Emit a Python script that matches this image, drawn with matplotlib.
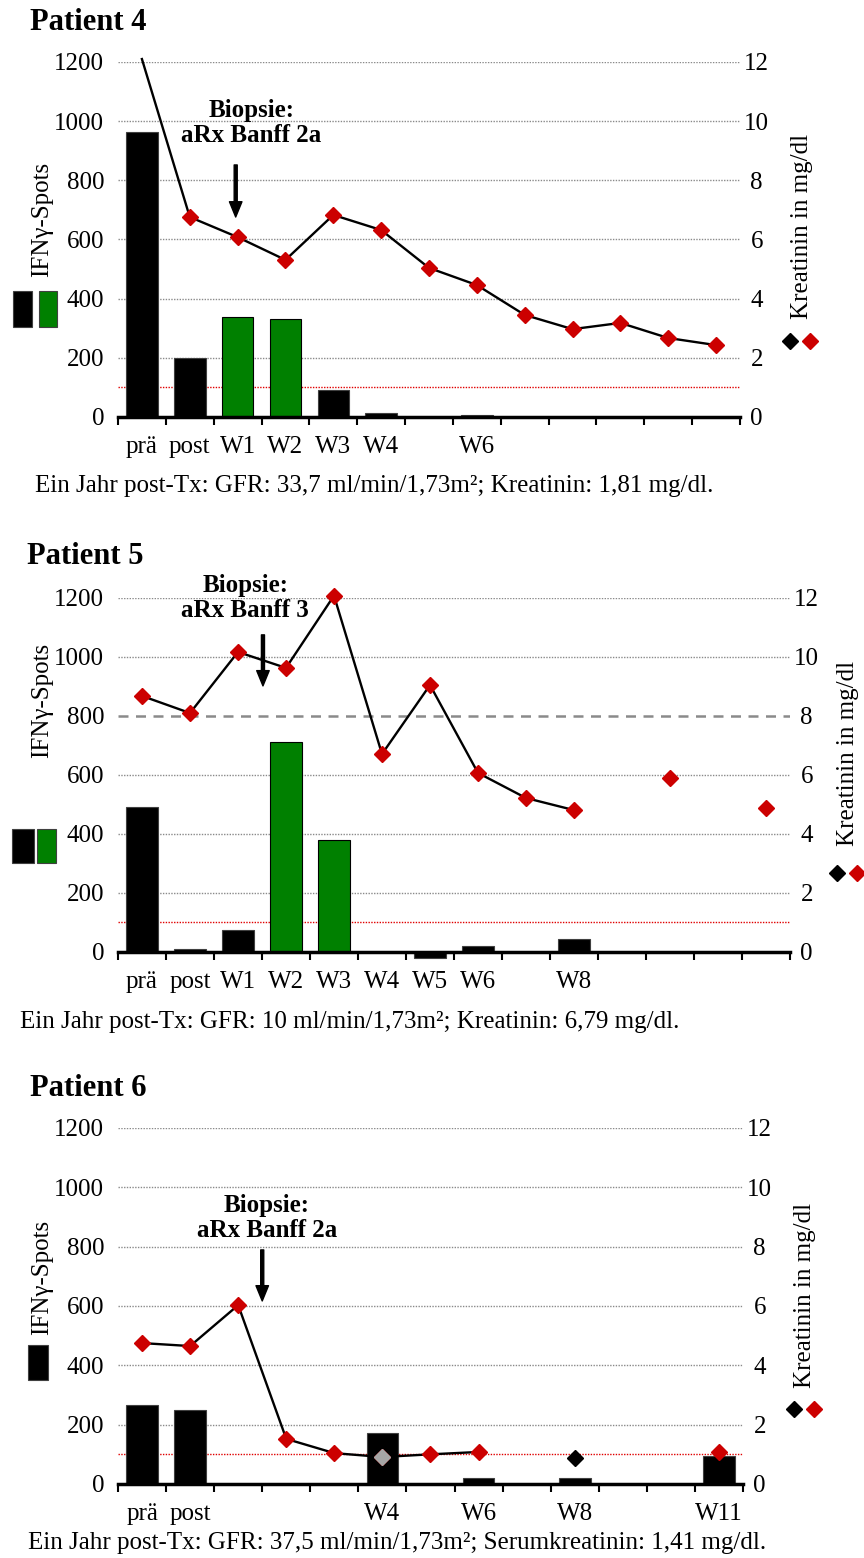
import numpy as np
import matplotlib
matplotlib.use("Agg")
import matplotlib.pyplot as plt
from matplotlib.patches import Rectangle
from matplotlib.lines import Line2D

plt.rcParams['font.family'] = ['Liberation Serif', 'DejaVu Serif']

W, H = 864, 1558
nan = np.nan

# ---------------------------------------------------------------
# Data
# ---------------------------------------------------------------
# Patient 4
p4_labels = ["prä", "post", "W1", "W2", "W3", "W4", "", "W6", "", "", "", "", ""]
p4_spots = [965, 200, 338, 330, 90, 15, nan, 8, nan, nan, nan, nan, nan]
p4_green = [2, 3]
p4_krea = [12.1, 6.76, 6.08, 5.31, 6.83, 6.32, 5.04, 4.46, 3.45, 2.97, 3.18, 2.67, 2.43]
p4_krea_black = [nan] * 13
p4_note = "Ein Jahr post-Tx: GFR: 33,7 ml/min/1,73m²; Kreatinin: 1,81 mg/dl."
p4_biopsy = "Biopsie:\naRx Banff 2a"

# Patient 5
p5_labels = ["prä", "post", "W1", "W2", "W3", "W4", "W5", "W6", "", "W8", "", "", "", ""]
p5_spots = [490, 10, 75, 712, 380, nan, -22, 20, nan, 45, nan, nan, nan, nan]
p5_green = [3, 4]
p5_krea = [8.68, 8.1, 10.17, 9.63, 12.08, 6.71, 9.05, 6.07, 5.22, 4.81, nan, 5.9, nan, 4.88]
p5_krea_black = [nan] * 14
p5_note = "Ein Jahr post-Tx: GFR: 10 ml/min/1,73m²; Kreatinin: 6,79 mg/dl."
p5_biopsy = "Biopsie:\naRx Banff 3"

# Patient 6
p6_labels = ["prä", "post", "", "", "", "W4", "", "W6", "", "W8", "", "", "W11"]
p6_spots = [265, 248, nan, nan, nan, 172, nan, 20, nan, 20, nan, nan, 95]
p6_green = []
p6_krea = [4.75, 4.65, 6.03, 1.52, 1.04, 0.91, 1.0, 1.08, nan, nan, nan, nan, 1.08]
p6_krea_gray = [5]
p6_krea_black = [nan, nan, nan, nan, nan, nan, nan, nan, nan, 0.88, nan, nan, nan]
p6_note = "Ein Jahr post-Tx: GFR: 37,5 ml/min/1,73m²; Serumkreatinin: 1,41 mg/dl."
p6_biopsy = "Biopsie:\naRx Banff 2a"

spot_ticks = [0, 200, 400, 600, 800, 1000, 1200]
krea_ticks = [0, 2, 4, 6, 8, 10, 12]

RED = "#CC0000"
GREEN = "#008000"

fig = plt.figure(figsize=(W / 100, H / 100), dpi=100)


def fx(x):
    return x / W


def fy(y):
    return 1 - y / H


def draw_panel(top, bottom, right, labels, spots, green, krea, krea_black,
               title, title_xy, note, note_xy, biopsy, biopsy_xy, arrow,
               left_label_y, right_label_xy, diamonds_xy, squares,
               first_marker=True, gray_idx=(), dashed=None):
    n = len(labels)
    x = np.arange(n) + 0.5
    ax = fig.add_axes([fx(118), fy(bottom), fx(right - 118), (bottom - top) / H])
    ax.set_xlim(0, n)
    ax.set_ylim(0, 1200)

    # grid lines
    for v in spot_ticks[1:]:
        if dashed is not None and v == dashed:
            ax.axhline(v, color="#8a8a8a", lw=1.8, ls=(0, (4, 3)), zorder=0)
        else:
            ax.axhline(v, color="#8a8a8a", lw=1.0, ls=(0, (1, 1)), zorder=0)
    ax.axhline(100, color="#E00000", lw=1.0, ls=(0, (1, 1)), zorder=0)

    colors = [GREEN if i in green else "black" for i in range(n)]
    edges = ["black" if i in green else "#404040" for i in range(n)]
    ax.bar(x, spots, width=0.66, color=colors, edgecolor=edges, linewidth=0.8,
           clip_on=False, zorder=2)

    for s in ["left", "right", "top"]:
        ax.spines[s].set_visible(False)
    ax.spines["bottom"].set_linewidth(2.5)
    ax.spines["bottom"].set_zorder(4)

    ax.set_xticks(np.arange(n + 1))
    ax.set_xticklabels([])
    ax.tick_params(axis="x", which="major", length=6, width=1.5, direction="out")
    ax.set_xticks(x, minor=True)
    ax.set_xticklabels(labels, minor=True)
    ax.tick_params(axis="x", which="minor", length=0, pad=14, labelsize=18)

    ax.set_yticks(spot_ticks)
    ax.tick_params(axis="y", length=0, pad=10, labelsize=18)

    ax2 = ax.twinx()
    ax2.set_ylim(0, 12)
    ax2.set_yticks(krea_ticks)
    ax2.tick_params(axis="y", length=0, pad=12, labelsize=18)
    for t in ax2.get_yticklabels():
        t.set_horizontalalignment("center")
    for s in ["left", "right", "top", "bottom"]:
        ax2.spines[s].set_visible(False)

    mk = list(range(n)) if first_marker else list(range(1, n))
    ax2.plot(x, krea, color="black", lw=1.7, marker="D", ms=8.5,
             mfc=RED, mec=RED, markevery=mk, clip_on=False, zorder=3)
    for i in gray_idx:
        ax2.plot(x[i], krea[i], marker="D", ms=8.5, mfc="#A6A6A6", mec="#A6A6A6",
                 ls="none", zorder=4)
    ax2.plot(x, krea_black, ls="none", marker="D", ms=8.5, mfc="black",
             mec="black", zorder=4)

    # annotation
    ax.text(biopsy_xy[0], biopsy_xy[1], biopsy, ha="center", va="center",
            fontsize=18, fontweight="bold", linespacing=1.1)
    ax.annotate("", xy=(arrow[0], arrow[2]), xytext=(arrow[0], arrow[1]),
                arrowprops=dict(facecolor="black", edgecolor="black", width=2.2,
                                headwidth=9, headlength=11, shrink=0))

    fig.text(fx(title_xy[0]), fy(title_xy[1]), title, ha="left", va="center",
             fontsize=22, fontweight="bold")
    fig.text(fx(note_xy[0]), fy(note_xy[1]), note, ha="left", va="center",
             fontsize=18)
    fig.text(fx(42), fy(left_label_y), "IFNγ-Spots", rotation=90,
             ha="center", va="center", fontsize=18)
    fig.text(fx(right_label_xy[0]), fy(right_label_xy[1]), "Kreatinin in mg/dl",
             rotation=90, ha="center", va="center", fontsize=18)
    for (cx, cy), c in zip(diamonds_xy, ["black", RED]):
        fig.add_artist(Line2D([fx(cx)], [fy(cy)], marker="D", ms=8, color=c,
                              transform=fig.transFigure))
    for (x0, y0, x1, y1), c in squares:
        fig.add_artist(Rectangle((fx(x0), fy(y1)), fx(x1 - x0), (y1 - y0) / H,
                                 facecolor=c, edgecolor="#404040", lw=0.8,
                                 transform=fig.transFigure))
    return ax


draw_panel(62, 417, 740, p4_labels, p4_spots, p4_green, p4_krea, p4_krea_black,
           "Patient 4", (30, 22), p4_note, (35, 486), p4_biopsy, (2.79, 994),
           (2.46, 852, 676), 219, (802, 226), [(790, 341), (810, 341)],
           [((13, 291, 32, 327), "black"), ((39, 291, 57, 327), GREEN)],
           first_marker=False)

draw_panel(598, 952, 790, p5_labels, p5_spots, p5_green, p5_krea, p5_krea_black,
           "Patient 5", (27, 557), p5_note, (20, 1022), p5_biopsy, (2.65, 1200),
           (3.02, 1075, 902), 700, (848, 753), [(837, 873), (857, 873)],
           [((12, 829, 34, 863), "black"), ((37, 829, 56, 863), GREEN)],
           dashed=800)

draw_panel(1128, 1484, 743, p6_labels, p6_spots, p6_green, p6_krea, p6_krea_black,
           "Patient 6", (30, 1088), p6_note, (28, 1543), p6_biopsy, (3.1, 897),
           (3.0, 789, 617), 1277, (805, 1295), [(794, 1409), (814, 1409)],
           [((28, 1345, 48, 1380), "black")], gray_idx=p6_krea_gray)

fig.savefig("out.png", dpi=100)
